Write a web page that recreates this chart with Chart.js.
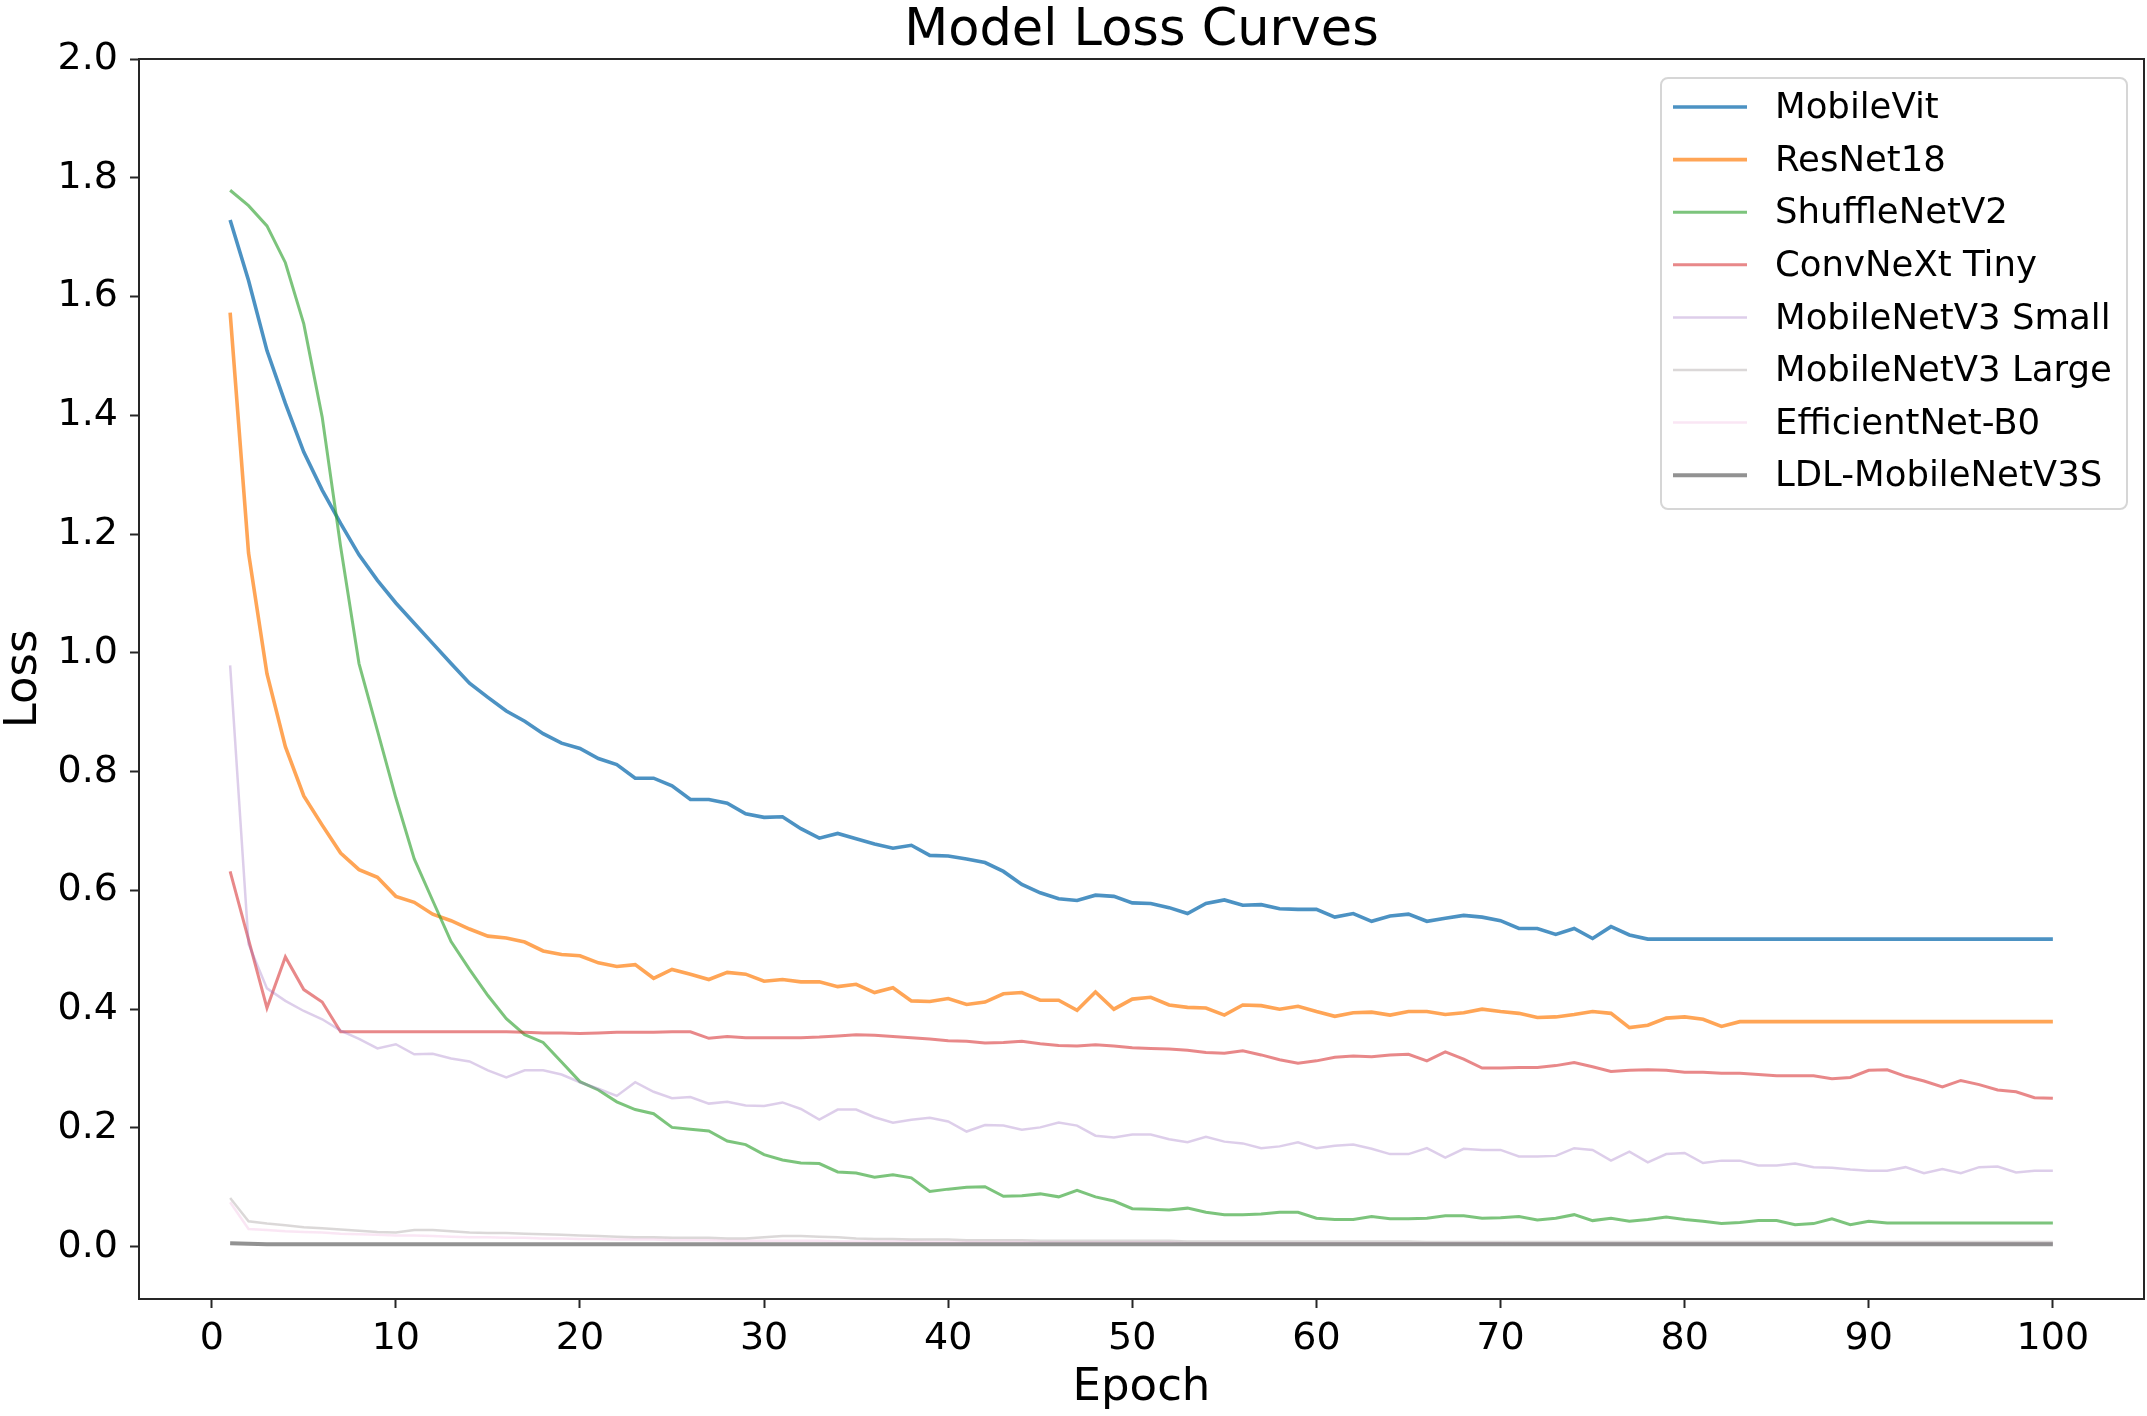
<!DOCTYPE html>
<html>
<head>
<meta charset="utf-8">
<title>Model Loss Curves</title>
<script src="https://cdn.jsdelivr.net/npm/chart.js@4.4.1/dist/chart.umd.min.js"></script>
<style>
  html, body { margin: 0; padding: 0; background: #fff; }
  canvas { display: block; }
</style>
</head>
<body>
<canvas id="lossChart" width="2147" height="1416"></canvas>
<script>
// epochs 1..100
const epochs = Array.from({ length: 100 }, (_, i) => i + 1)
const xTicks = [0, 10, 20, 30, 40, 50, 60, 70, 80, 90, 100]
const yTicks = [0, 0.2, 0.4, 0.6, 0.8, 1.0, 1.2, 1.4, 1.6, 1.8, 2.0]

const modelNames = ['MobileVit', 'ResNet18', 'ShuffleNetV2', 'ConvNeXt Tiny',
  'MobileNetV3 Small', 'MobileNetV3 Large', 'EfficientNet-B0', 'LDL-MobileNetV3S']

const mobileVit = [1.729,1.627,1.509,1.42,1.338,1.274,1.218,1.165,1.122,1.084,
  1.05,1.016,0.982,0.949,0.925,0.902,0.885,0.864,0.848,0.839,
  0.822,0.812,0.789,0.789,0.776,0.753,0.753,0.747,0.729,0.723,
  0.724,0.704,0.688,0.696,0.687,0.678,0.671,0.676,0.659,0.658,
  0.653,0.647,0.632,0.61,0.596,0.586,0.583,0.592,0.59,0.579,
  0.578,0.571,0.561,0.578,0.584,0.575,0.576,0.569,0.568,0.568,
  0.555,0.561,0.548,0.557,0.56,0.548,0.553,0.558,0.555,0.549,
  0.536,0.536,0.526,0.536,0.519,0.539,0.525,0.518,0.518,0.518,
  0.518,0.518,0.518,0.518,0.518,0.518,0.518,0.518,0.518,0.518,
  0.518,0.518,0.518,0.518,0.518,0.518,0.518,0.518,0.518,0.518]

const resNet18 = [1.573,1.168,0.965,0.842,0.759,0.71,0.663,0.635,0.622,0.59,
  0.58,0.56,0.549,0.535,0.523,0.52,0.513,0.498,0.492,0.49,
  0.478,0.472,0.475,0.452,0.467,0.459,0.45,0.462,0.459,0.447,
  0.45,0.446,0.446,0.438,0.442,0.428,0.436,0.414,0.413,0.418,
  0.408,0.412,0.426,0.428,0.415,0.415,0.398,0.429,0.4,0.417,
  0.42,0.407,0.403,0.402,0.39,0.407,0.406,0.4,0.405,0.396,
  0.388,0.394,0.395,0.39,0.396,0.396,0.391,0.394,0.4,0.396,
  0.393,0.386,0.387,0.391,0.396,0.393,0.369,0.373,0.385,0.387,
  0.383,0.371,0.379,0.379,0.379,0.379,0.379,0.379,0.379,0.379,
  0.379,0.379,0.379,0.379,0.379,0.379,0.379,0.379,0.379,0.379]

const shuffleNetV2 = [1.779,1.753,1.719,1.657,1.554,1.397,1.179,0.982,0.869,0.756,
  0.653,0.583,0.514,0.467,0.423,0.384,0.357,0.344,0.311,0.278,
  0.264,0.244,0.231,0.224,0.201,0.198,0.195,0.178,0.172,0.155,
  0.146,0.141,0.14,0.126,0.124,0.117,0.121,0.116,0.093,0.097,
  0.1,0.101,0.085,0.086,0.089,0.084,0.095,0.084,0.077,0.064,
  0.063,0.062,0.065,0.058,0.054,0.054,0.055,0.058,0.058,0.048,
  0.046,0.046,0.051,0.047,0.047,0.048,0.052,0.052,0.048,0.049,
  0.051,0.045,0.048,0.054,0.044,0.048,0.043,0.046,0.05,0.046,
  0.043,0.039,0.041,0.044,0.044,0.037,0.039,0.047,0.037,0.043,
  0.04,0.04,0.04,0.04,0.04,0.04,0.04,0.04,0.04,0.04]

const convNeXtTiny = [0.632,0.517,0.402,0.488,0.433,0.412,0.362,0.362,0.362,0.362,
  0.362,0.362,0.362,0.362,0.362,0.362,0.361,0.36,0.36,0.359,
  0.36,0.361,0.361,0.361,0.362,0.362,0.351,0.354,0.352,0.352,
  0.352,0.352,0.353,0.355,0.357,0.356,0.354,0.352,0.35,0.347,
  0.346,0.343,0.344,0.346,0.342,0.339,0.338,0.34,0.338,0.335,
  0.334,0.333,0.331,0.327,0.326,0.33,0.323,0.315,0.309,0.313,
  0.319,0.321,0.32,0.323,0.324,0.313,0.328,0.316,0.301,0.301,
  0.302,0.302,0.305,0.31,0.303,0.295,0.297,0.298,0.297,0.294,
  0.294,0.292,0.292,0.29,0.288,0.288,0.288,0.283,0.285,0.297,
  0.298,0.287,0.279,0.269,0.28,0.273,0.264,0.261,0.251,0.25]

const mobileNetV3Small = [0.979,0.51,0.435,0.414,0.397,0.383,0.364,0.35,0.334,0.341,
  0.324,0.325,0.317,0.312,0.297,0.285,0.297,0.297,0.29,0.277,
  0.266,0.254,0.277,0.261,0.25,0.252,0.241,0.244,0.238,0.237,
  0.243,0.232,0.214,0.231,0.231,0.218,0.209,0.214,0.217,0.211,
  0.194,0.205,0.204,0.197,0.201,0.209,0.204,0.187,0.184,0.189,
  0.189,0.181,0.176,0.185,0.177,0.174,0.166,0.169,0.176,0.166,
  0.17,0.172,0.165,0.156,0.156,0.166,0.15,0.165,0.163,0.163,
  0.152,0.152,0.153,0.166,0.163,0.145,0.16,0.142,0.156,0.158,
  0.141,0.145,0.145,0.137,0.137,0.14,0.134,0.133,0.13,0.128,
  0.128,0.134,0.124,0.131,0.124,0.134,0.135,0.125,0.128,0.128]

const mobileNetV3Large = [0.082,0.043,0.039,0.036,0.033,0.031,0.029,0.027,0.025,0.024,
  0.028,0.028,0.026,0.024,0.023,0.023,0.022,0.021,0.02,0.019,
  0.018,0.017,0.016,0.016,0.015,0.015,0.015,0.014,0.014,0.016,
  0.018,0.018,0.017,0.016,0.014,0.013,0.013,0.012,0.012,0.012,
  0.011,0.011,0.011,0.011,0.01,0.01,0.01,0.01,0.01,0.01,
  0.01,0.01,0.009,0.009,0.009,0.009,0.009,0.009,0.009,0.009,
  0.009,0.009,0.009,0.009,0.009,0.008,0.008,0.008,0.008,0.008,
  0.008,0.008,0.008,0.008,0.008,0.008,0.008,0.008,0.008,0.008,
  0.008,0.008,0.008,0.008,0.008,0.008,0.008,0.008,0.008,0.008,
  0.008,0.008,0.008,0.008,0.008,0.008,0.008,0.008,0.008,0.008]

const efficientNetB0 = [0.075,0.03,0.028,0.026,0.025,0.024,0.022,0.021,0.02,0.019,
  0.019,0.018,0.017,0.016,0.016,0.015,0.015,0.014,0.014,0.013,
  0.013,0.012,0.012,0.012,0.011,0.011,0.011,0.01,0.01,0.01,
  0.01,0.01,0.01,0.009,0.009,0.009,0.009,0.009,0.008,0.008,
  0.008,0.008,0.008,0.008,0.007,0.007,0.007,0.007,0.007,0.007,
  0.007,0.007,0.006,0.006,0.006,0.006,0.006,0.006,0.006,0.006,
  0.006,0.006,0.006,0.006,0.006,0.006,0.006,0.006,0.006,0.006,
  0.005,0.005,0.005,0.005,0.005,0.005,0.005,0.005,0.005,0.005,
  0.005,0.005,0.005,0.005,0.005,0.005,0.005,0.005,0.005,0.005,
  0.005,0.005,0.005,0.005,0.005,0.005,0.005,0.005,0.005,0.005]

const ldlMobileNetV3S = [0.006,0.005,0.004,0.004,0.004,0.004,0.004,0.004,0.004,0.004,
  0.004,0.004,0.004,0.004,0.004,0.004,0.004,0.004,0.004,0.004,
  0.004,0.004,0.004,0.004,0.004,0.004,0.004,0.004,0.004,0.004,
  0.004,0.004,0.004,0.004,0.004,0.004,0.004,0.004,0.004,0.004,
  0.004,0.004,0.004,0.004,0.004,0.004,0.004,0.004,0.004,0.004,
  0.004,0.004,0.004,0.004,0.004,0.004,0.004,0.004,0.004,0.004,
  0.004,0.004,0.004,0.004,0.004,0.004,0.004,0.004,0.004,0.004,
  0.004,0.004,0.004,0.004,0.004,0.004,0.004,0.004,0.004,0.004,
  0.004,0.004,0.004,0.004,0.004,0.004,0.004,0.004,0.004,0.004,
  0.004,0.004,0.004,0.004,0.004,0.004,0.004,0.004,0.004,0.004]

const seriesValues = [mobileVit, resNet18, shuffleNetV2, convNeXtTiny,
  mobileNetV3Small, mobileNetV3Large, efficientNetB0, ldlMobileNetV3S]

const lineColors = ['rgba(31,119,180,0.8)', 'rgba(255,127,14,0.7)', 'rgba(44,160,44,0.62)',
  'rgba(214,39,40,0.55)', 'rgba(148,103,189,0.32)', 'rgba(135,125,125,0.3)',
  'rgba(227,119,194,0.18)', 'rgba(127,127,127,0.85)']
const lineWidths = [3.6, 3.6, 3, 3, 2.5, 2.5, 2.5, 4]

const FONT = 'DejaVu Sans'
const AXIS = '#262626'

// full box round the plot + legend inside the upper right corner
const framePlugin = {
  id: 'frame',
  afterDraw(chart) {
    const { ctx, chartArea: a } = chart
    ctx.save()
    ctx.strokeStyle = AXIS
    ctx.lineWidth = 2
    ctx.strokeRect(a.left, a.top, a.right - a.left, a.bottom - a.top)

    // legend
    const bx = 1661, by = 78, bw = 466, bh = 431, r = 7
    ctx.fillStyle = 'rgba(255,255,255,0.8)'
    ctx.strokeStyle = '#d6d6d6'
    ctx.lineWidth = 2
    ctx.beginPath()
    ctx.roundRect(bx, by, bw, bh, r)
    ctx.fill()
    ctx.stroke()
    ctx.font = '35.5px "' + FONT + '"'
    ctx.textBaseline = 'middle'
    ctx.textAlign = 'left'
    chart.data.datasets.forEach((ds, i) => {
      const y = 107 + i * 52.6
      ctx.strokeStyle = ds.borderColor
      ctx.lineWidth = ds.borderWidth
      ctx.beginPath()
      ctx.moveTo(1673, y)
      ctx.lineTo(1747, y)
      ctx.stroke()
      ctx.fillStyle = '#000'
      ctx.fillText(ds.label, 1775, y + 2)
    })
    ctx.restore()
  }
}

new Chart('lossChart', {
  type: 'line',
  data: {
    labels: epochs,
    datasets: modelNames.map((name, i) => ({
      label: name,
      data: seriesValues[i].map((v, j) => ({ x: epochs[j], y: v })),
      borderColor: lineColors[i],
      backgroundColor: lineColors[i],
      borderWidth: lineWidths[i],
      pointRadius: 0,
      tension: 0,
      fill: false,
      order: modelNames.length - i
    }))
  },
  options: {
    responsive: false,
    devicePixelRatio: 1,
    animation: false,
    layout: { padding: { top: 0, right: 3, left: 0, bottom: 0 } },
    plugins: {
      legend: { display: false },
      tooltip: { enabled: false },
      title: {
        display: true,
        fullSize: false,
        text: 'Model Loss Curves',
        color: '#000',
        font: { family: FONT, size: 51, weight: 'normal', lineHeight: 1.0 },
        padding: { top: 6, bottom: 2 }
      }
    },
    scales: {
      x: {
        type: 'linear',
        min: -3.95,
        max: 104.95,
        afterBuildTicks: s => { s.ticks = xTicks.map(v => ({ value: v })) },
        afterFit: s => { s.height = 117 },
        border: { display: false },
        grid: { drawOnChartArea: false, drawTicks: true, tickLength: 9, tickWidth: 2, tickColor: AXIS },
        ticks: { color: '#000', font: { family: FONT, size: 38 }, padding: 8, maxRotation: 0, autoSkip: false },
        title: {
          display: true, text: 'Epoch', color: '#000',
          font: { family: FONT, size: 45, lineHeight: 1.2 },
          padding: { top: 0, bottom: 1 }
        }
      },
      y: {
        type: 'linear',
        min: -0.088,
        max: 2.0,
        afterBuildTicks: s => { s.ticks = yTicks.map(v => ({ value: v })) },
        afterFit: s => { s.width = 139 },
        border: { display: false },
        grid: { drawOnChartArea: false, drawTicks: true, tickLength: 9, tickWidth: 2, tickColor: AXIS },
        ticks: {
          color: '#000', font: { family: FONT, size: 38 }, padding: 12,
          callback: v => Number(v).toFixed(1)
        },
        title: {
          display: true, text: 'Loss', color: '#000',
          font: { family: FONT, size: 45, lineHeight: 1.0 },
          padding: { top: 2, bottom: 0 }
        }
      }
    }
  },
  plugins: [framePlugin]
})
</script>
</body>
</html>
